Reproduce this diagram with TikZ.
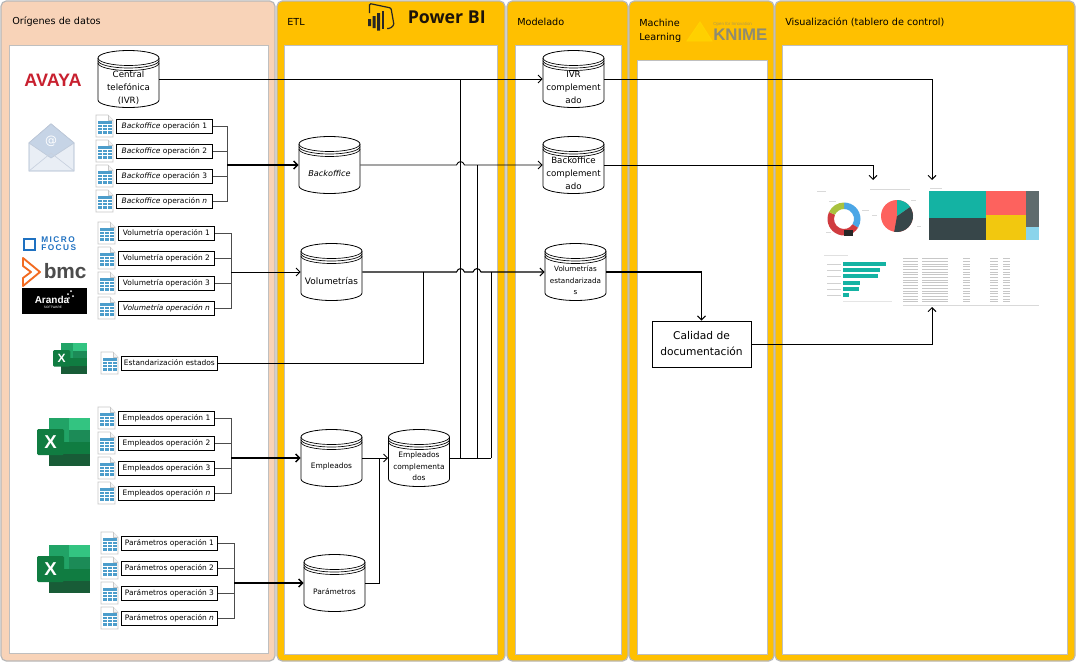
\documentclass[tikz,border=0pt]{standalone}
\usepackage{fontspec}
\setmainfont{DejaVu Sans}
\newfontfamily\logofont{Liberation Sans}
\newfontfamily\mffont[LetterSpace=18]{Liberation Sans}
\newfontfamily\pbifont{Open Sans}
\usetikzlibrary{arrows.meta,calc}
\definecolor{peach}{HTML}{F8D3B8}
\definecolor{gold}{HTML}{FFC000}
\definecolor{teal1}{HTML}{14B3A3}
\definecolor{coral}{HTML}{FD625E}
\definecolor{slate}{HTML}{374649}
\definecolor{docblue}{HTML}{4C9DCB}
\definecolor{HTMLa}{HTML}{21A366}
\definecolor{HTMLb}{HTML}{33C481}
\definecolor{HTMLc}{HTML}{107C41}
\definecolor{HTMLd}{HTML}{185C37}
\definecolor{HTMLe}{HTML}{107C41}
\definecolor{donutblue}{HTML}{4BA6E6}
\definecolor{donutred}{HTML}{D03B3F}
\definecolor{donutgreen}{HTML}{A9C23F}
\definecolor{treeyellow}{HTML}{F2C80F}
\definecolor{treegray}{HTML}{5F6B6D}
\definecolor{treeblue}{HTML}{8AD4EB}
\definecolor{envbody}{HTML}{E9EEF5}
\definecolor{envflap}{HTML}{C6D4E6}
\definecolor{envline}{HTML}{A3B3CA}
\definecolor{mfblue}{HTML}{1F71C1}
\definecolor{bmcorange}{HTML}{F26B21}
\definecolor{avayared}{HTML}{C8202F}
\definecolor{knimegray}{HTML}{8E8B72}
\tikzset{
  panel/.style={draw=black!28,line width=0.9pt,rounded corners=4pt},
  inner/.style={draw=black!25,line width=0.7pt,fill=white},
  title/.style={anchor=west,inner sep=0pt,font=\fontsize{7.25}{10}\selectfont},
  srcbox/.style={draw=black,line width=0.6pt,fill=white,minimum width=72pt,minimum height=10.5pt,inner sep=0pt,font=\fontsize{5.6}{6}\selectfont},
  dbnode/.style={minimum width=45.75pt,minimum height=42.75pt,inner sep=0pt},
  dbtext/.style={inner sep=0pt,align=center},
  dbshape/.style={draw=black,line width=0.6pt,fill=white},
  link/.style={draw=black,line width=0.7pt},
  bus/.style={draw=black!70,line width=0.75pt},
  trunk/.style={draw=black,line width=1.1pt},
  arrow/.style={-{Straight Barb[length=3pt,width=6pt]}},
  proc/.style={draw=black,line width=0.7pt,fill=white,minimum width=74.25pt,minimum height=34.5pt,inner sep=0pt,align=center,font=\fontsize{8}{12}\selectfont},
  bartile/.style={fill=teal1},
}
\newcommand{\dbcyl}[6]{% name, cx, cy, font size, line height, text
  \begin{scope}[shift={(#2,#3)}]
    \path[dbshape] (-30.5,-21) -- (-30.5,21) arc[start angle=180,end angle=0,x radius=30.5,y radius=7.5] -- (30.5,-21) arc[start angle=0,end angle=-180,x radius=30.5,y radius=7.5] -- cycle;
    \draw[line width=0.5pt] (-30.5,-21) arc[start angle=180,end angle=0,x radius=30.5,y radius=7.5];
    \draw[line width=0.5pt] (-30.5,-18.5) arc[start angle=180,end angle=0,x radius=30.5,y radius=7.5];
    \draw[line width=0.5pt] (-30.5,-16) arc[start angle=180,end angle=0,x radius=30.5,y radius=7.5];
  \end{scope}
  \node[dbnode] (#1) at (#2,#3) {};
  \node[dbtext,font=\fontsize{#4}{#5}\selectfont] (#1-t) at ($(#1)+(0,8.5)$) {#6};
}
\newcommand{\docicon}[2]{% x left, y centre
  \begin{scope}[shift={(#1,#2)}]
    \path[draw=black!22,line width=0.5pt,fill=white] (0,-11) -- (12,-11) -- (17,-6) -- (17,11) -- (0,11) -- cycle;
    \path[draw=black!22,line width=0.4pt,fill=black!5] (12,-11) -- (12,-6) -- (17,-6);
    \fill[docblue] (2,-5) rectangle (15.5,8);
    \draw[white,line width=0.35pt] (2,-1.5) -- (15.5,-1.5) (2,1.5) -- (15.5,1.5) (2,4.5) -- (15.5,4.5) (6.5,-1.5) -- (6.5,8) (11,-1.5) -- (11,8);
  \end{scope}
}
\newcommand{\src}[4]{% name, x left, y centre, text
  \docicon{#2-20}{#3}
  \node[srcbox,anchor=west] (#1) at (#2,#3) {#4};
}
\newcommand{\excelicon}[4]{% x, y, scale, font size
  \begin{scope}[shift={(#1,#2)},x=#3*0.75pt,y=-#3*0.75pt]
    \fill[fill=HTMLa] (12,0) rectangle (32,12);
    \fill[fill=HTMLb] (32,0) rectangle (53,12);
    \fill[fill=HTMLa] (12,12) rectangle (32,24);
    \fill[fill=HTMLa!85!black] (32,12) rectangle (53,24);
    \fill[fill=HTMLc] (12,24) rectangle (53,36);
    \fill[fill=HTMLd] (12,36) rectangle (53,48);
    \fill[rounded corners=1pt,fill=HTMLe] (0,11) rectangle (27,37);
    \node[text=white,inner sep=0pt,font=\logofont\bfseries\fontsize{#4}{#4}\selectfont] at (13.5,24) {X};
  \end{scope}
}
\begin{document}
\begin{tikzpicture}[x=0.75pt,y=-0.75pt]
\useasboundingbox (0,0) rectangle (1078,665);
\fill[white] (0,0) rectangle (1078,665);
% panels
\path[panel,fill=peach] (1,1) rectangle (275,661);
\path[panel,fill=gold] (277,1) rectangle (505,661);
\path[panel,fill=gold] (507,1) rectangle (628,661);
\path[panel,fill=gold] (629,1) rectangle (774,661);
\path[panel,fill=gold] (775,1) rectangle (1075,661);
\path[inner] (9,45.5) rectangle (268,653);
\path[inner] (284,45.5) rectangle (497,654);
\path[inner] (515,45.5) rectangle (621,654);
\path[inner] (637,60) rectangle (767,654);
\path[inner] (782,45.5) rectangle (1067,654);
\node[title] (t1) at (12,22) {Orígenes de datos};
\node[title] (t2) at (287,22) {ETL};
\node[title] (t3) at (517,22) {Modelado};
\node[title,align=left,font=\fontsize{7.25}{10.6}\selectfont] (t4) at (639,31) {Machine\\Learning};
\node[title] (t5) at (785,22) {Visualización (tablero de control)};
% Power BI logo
\node[anchor=west,inner sep=0pt,text=black!85!brown,font=\pbifont\bfseries\fontsize{13.3}{14}\selectfont] (pbi) at (407.5,17) {Power BI};
\draw[black!85,line width=0.9pt,rounded corners=1pt] (369.5,13) -- (369.5,3.5) -- (391,8) -- (394,25) -- (390,28.5) -- (387,28.5);
\fill[black!85] (368,19) rectangle (371,26) (372.5,16) rectangle (375.5,28) (377,13) rectangle (380,30.5);
\draw[black!85,line width=0.9pt] (383,11) -- (383,29);
% KNIME logo
\draw[line width=0.7pt,draw=gold!70!yellow,fill=gold!75!yellow] (700,22) -- (687,41) -- (712,41) -- cycle;
\node[anchor=west,inner sep=0pt,text=knimegray,font=\logofont\bfseries\fontsize{12.6}{14}\selectfont] (kn) at (713,34.5) {KNIME};
\node[anchor=west,inner sep=0pt,text=knimegray!70!gold,font=\logofont\fontsize{3.3}{4}\selectfont] (kn2) at (713,24.5) {Open for Innovation};
% AVAYA logo
\node[inner sep=0pt,text=avayared,font=\logofont\bfseries\fontsize{13.5}{14}\selectfont] (avaya) at (53,80) {AVAYA};
% Envelope
\path[draw=envline,line width=0.7pt,fill=envbody] (29,143) -- (51,124) -- (74,143) -- (74,171) -- (29,171) -- cycle;
\path[draw=envline!70,line width=0.5pt,fill=envflap] (29,143) -- (51,124) -- (74,143) -- (51,158) -- cycle;
\draw[envline!60,line width=0.5pt] (29,171) -- (51,153) -- (74,171);
\node[text=white,inner sep=0pt,font=\fontsize{9}{9}\selectfont] (at) at (51,141) {@};
% Micro Focus
\draw[draw=mfblue,line width=2pt] (24,239) rectangle (35,250);
\node[anchor=west,inner sep=0pt,text=mfblue,font=\mffont\bfseries\fontsize{6.2}{7}\selectfont] (mf1) at (41,240) {MICRO};
\node[anchor=west,inner sep=0pt,text=mfblue,font=\mffont\bfseries\fontsize{6.2}{7}\selectfont] (mf2) at (41,248) {FOCUS};
% bmc
\path[draw=bmcorange,line width=1.4pt,line join=round] (23,258) -- (40,272) -- (23,286) -- (23,278) -- (31,272) -- (23,266) -- cycle;
\node[anchor=west,inner sep=0pt,text=black!70,font=\logofont\bfseries\fontsize{15.6}{17}\selectfont] (bmc) at (43.5,271) {bmc};
% Aranda
\fill[black] (22,288) rectangle (87,314);
\node[inner sep=0pt,text=white,font=\logofont\bfseries\fontsize{7.5}{8}\selectfont] (ar) at (52,300) {Aranda};
\node[inner sep=0pt,text=white,font=\logofont\fontsize{2.4}{3}\selectfont] (ar2) at (53,307) {SOFTWARE};
\fill[white] (68,294) circle (1) (71,291) circle (1) (73,296) circle (1) (69,298) circle (0.8);
% Excel icons
\excelicon{53}{343}{0.64}{9}
\excelicon{37}{418}{1}{14}
\excelicon{37}{545}{1}{14}
% Sources
\src{b1}{116}{126}{\textit{Backoffice} operación 1}
\src{b2}{116}{151}{\textit{Backoffice} operación 2}
\src{b3}{116}{176}{\textit{Backoffice} operación 3}
\src{b4}{116}{201}{\textit{Backoffice} operación \textit{n}}
\src{v1}{118}{233}{Volumetría operación 1}
\src{v2}{118}{258}{Volumetría operación 2}
\src{v3}{118}{283}{Volumetría operación 3}
\src{v4}{118}{308}{\textit{Volumetría operación n}}
\src{std}{121}{363}{Estandarización estados}
\src{e1}{118}{418}{Empleados operación 1}
\src{e2}{118}{443}{Empleados operación 2}
\src{e3}{118}{468}{Empleados operación 3}
\src{e4}{118}{493}{Empleados operación \textit{n}}
\src{p1}{121}{543}{Parámetros operación 1}
\src{p2}{121}{568}{Parámetros operación 2}
\src{p3}{121}{593}{Parámetros operación 3}
\src{p4}{121}{618}{Parámetros operación \textit{n}}
% Cylinders
\dbcyl{ivrsrc}{128.5}{79}{6.5}{9.75}{Central\\telefónica\\(IVR)}
\dbcyl{bko}{329.5}{165}{6.1}{9}{\textit{Backoffice}}
\dbcyl{vol}{331.5}{272}{6.7}{9}{Volumetrías}
\dbcyl{emp}{331.5}{458}{5.6}{9}{Empleados}
\dbcyl{par}{334.5}{583}{5.6}{9}{Parámetros}
\dbcyl{empc}{419}{458}{5.6}{8.6}{Empleados\\complementa\\dos}
\dbcyl{ivrc}{573.5}{79}{6.5}{9.75}{IVR\\complement\\ado}
\dbcyl{bkoc}{573.5}{165}{6.5}{9.75}{Backoffice\\complement\\ado}
\dbcyl{volc}{575.5}{272}{5.4}{8.6}{Volumetrías\\estandarizada\\s}
\node[proc] (cal) at (701.5,344) {Calidad de\\documentación};
% Dashboard
\begin{scope}
  \coordinate (dn) at (844,219);
  \def\sect#1#2#3{\fill[#3] ($(dn)+(#1:16.5)$) arc[start angle=#1,end angle=#2,radius=16.5] -- ($(dn)+(#2:10)$) arc[start angle=#2,end angle=#1,radius=10] -- cycle;}
  \sect{-90}{32}{donutblue}
  \sect{32}{205}{donutred}
  \sect{205}{270}{donutgreen}
  \fill[black!85] (844,230) rectangle (853,236);
  \coordinate (pc) at (897,216);
  \fill[coral] (pc) circle (16);
  \fill[slate] (pc) -- ($(pc)+(-35:16)$) arc[start angle=-35,end angle=100,radius=16] -- cycle;
  \fill[teal1] (pc) -- ($(pc)+(-90:16)$) arc[start angle=-90,end angle=-35,radius=16] -- cycle;
  \fill[teal1] (929,190.5) rectangle (986,218);
  \fill[coral] (986,190.5) rectangle (1026,215);
  \fill[treegray] (1026,190.5) rectangle (1039,227);
  \fill[slate] (929,218) rectangle (986,240);
  \fill[treeyellow] (986,215) rectangle (1026,240);
  \fill[treeblue] (1026,227) rectangle (1039,240);
  \draw[black!15,line width=0.5pt] (817,191) -- (826,191) (870,189) -- (910,189) (930,188) -- (942,188) (829,201) -- (836,201) (862,210) -- (869,210) (826,232) -- (831,232) (872,215) -- (877,215) (911,200) -- (916,200) (917,226) -- (921,226);
  \foreach \yy/\xx in {264/886,270/880,276/878,283/860,289/859,295/849} {
    \fill[bartile] (843,\yy-2.3) rectangle (\xx,\yy+2.3);
    \draw[black!18,line width=0.6pt] (827,\yy) -- (841,\yy);
  }
  \draw[black!12,line width=0.4pt] (824,255.5) -- (848,255.5);
  \draw[black!10,line width=0.4pt] (843,301) -- (892,301);
  \foreach \k in {0,...,16} {
    \pgfmathsetmacro{\yy}{258.5+\k*2.7}
    \draw[black!22,line width=0.6pt] (903,\yy) -- (918,\yy) (922,\yy) -- (948,\yy) (963,\yy) -- (970,\yy) (990,\yy) -- (998,\yy) (1003,\yy) -- (1010,\yy);
  }
  \draw[black!15,line width=0.3pt] (903,305) -- (1039,305);
\end{scope}
% Source buses
\coordinate (bbus) at (227,165);
\coordinate (vbus) at (231,272);
\coordinate (ebus) at (231,458);
\coordinate (pbus) at (234,583);
\foreach \n in {b1,b2,b3,b4} \draw[bus] (\n.east) -| (bbus);
\foreach \n in {v1,v2,v3,v4} \draw[bus] (\n.east) -| (vbus);
\foreach \n in {e1,e2,e3,e4} \draw[bus] (\n.east) -| (ebus);
\foreach \n in {p1,p2,p3,p4} \draw[bus] (\n.east) -| (pbus);
\draw[trunk,arrow] (bbus) -- (bko.west);
\draw[link,arrow] (vbus) -- (vol.west);
\draw[trunk,arrow] (ebus) -- (emp.west);
\draw[trunk,arrow] (pbus) -- (par.west);
% ETL connectors
\coordinate (cA) at (460.5,458);
\coordinate (cB) at (477,458);
\coordinate (cC) at (491,458);
\coordinate (cS) at (423,272);
\coordinate (cP) at (379,458);
\draw[link] (empc.east) -- (cC);
\draw[link,arrow] (ivrsrc.east) -- (ivrc.west);
\draw[link] (cA) -- (cA |- ivrc.west);
\draw[link] (cB) -- (cB |- bkoc.west);
\draw[link] (cC) -- (cC |- volc.west);
\draw[link,arrow] (bko.east) -- (456.5,165) .. controls (458,160.5) and (463,160.5) .. (464.5,165) -- (bkoc.west);
\draw[link,arrow,line width=0.8pt] (vol.east) -- (456.5,272) .. controls (458,267.5) and (463,267.5) .. (464.5,272) -- (473,272) .. controls (474.5,267.5) and (479.5,267.5) .. (481,272) -- (volc.west);
\draw[link] (std.east) -| (cS);
\draw[link,arrow] (emp.east) -- (empc.west);
\draw[link] (par.east) -| (cP);
% Outputs
\coordinate (dA) at (932,180);
\coordinate (dB) at (873,180);
\coordinate (dC) at (932,307);
\draw[link,arrow] (ivrc.east) -| (dA);
\draw[link,arrow] (bkoc.east) -| (dB);
\draw[link,arrow,line width=0.8pt] (volc.east) -| (cal.north);
\draw[link,arrow] (cal.east) -| (dC);
\end{tikzpicture}
\end{document}
